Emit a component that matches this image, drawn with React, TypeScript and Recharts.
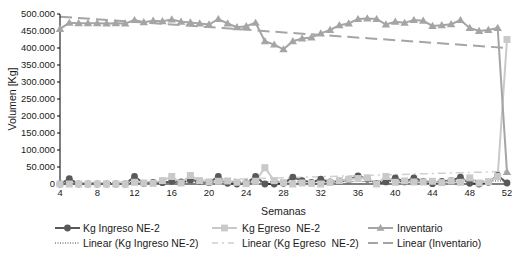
import React from 'react';
import { LineChart, Line, XAxis, YAxis, Legend } from 'recharts';

const weeks = [4, 5, 6, 7, 8, 9, 10, 11, 12, 13, 14, 15, 16, 17, 18, 19, 20, 21, 22, 23, 24, 25, 26, 27, 28, 29, 30, 31, 32, 33, 34, 35, 36, 37, 38, 39, 40, 41, 42, 43, 44, 45, 46, 47, 48, 49, 50, 51, 52];

const ingreso = [0, 16000, 0, 0, 0, 0, 0, 0, 22000, 2000, 5000, 4000, 8000, 6000, 12000, 8000, 4000, 22000, 2000, 0, 3000, 22000, 0, 0, 2000, 20000, 10000, 5000, 14000, 6000, 9000, 12000, 24000, 14000, 2000, 6000, 18000, 6000, 18000, 8000, 1000, 8000, 10000, 20000, 2000, 0, 5000, 25000, 3000];

const egreso = [0, 0, 0, 0, 0, 0, 0, 0, 5000, 3000, 2000, 10000, 22000, 3000, 25000, 10000, 6000, 8000, 9000, 5000, 1000, 8000, 48000, 10000, 4000, 0, 3000, 2000, 0, 5000, 10000, 14000, 16000, 18000, 0, 22000, 5000, 9000, 6000, 6000, 8000, 4000, 9000, 5000, 18000, 3000, 7000, 22000, 425000];

const inventario = [456000, 474000, 473000, 473000, 473000, 472000, 473000, 472000, 482000, 476000, 480000, 479000, 484000, 477000, 475000, 472000, 469000, 485000, 472000, 461000, 464000, 474000, 420000, 410000, 396000, 420000, 428000, 431000, 443000, 453000, 467000, 472000, 485000, 487000, 485000, 469000, 477000, 474000, 482000, 480000, 465000, 467000, 470000, 482000, 459000, 450000, 453000, 459000, 35000];

const trendWeeks = [4, 52];
const trendIngreso = [4000, 9000];
const trendEgreso = [0, 37000];
const trendInventario = [492000, 400000];

const xTicks = [4, 8, 12, 16, 20, 24, 28, 32, 36, 40, 44, 48, 52];
const yTicks = [0, 50000, 100000, 150000, 200000, 250000, 300000, 350000, 400000, 450000, 500000];

const legendLabels = [
  'Kg Ingreso NE-2',
  'Kg Egreso  NE-2',
  'Inventario',
  'Linear (Kg Ingreso NE-2)',
  'Linear (Kg Egreso  NE-2)',
  'Linear (Inventario)',
];

const C_ING = '#595959';
const C_EGR = '#c9c9c9';
const C_INV = '#a5a5a5';
const FONT = '"Liberation Sans", Arial, sans-serif';

const data = weeks.map((w, i) => {
  const t = trendWeeks.indexOf(w);
  return {
    week: w,
    ingreso: ingreso[i],
    egreso: egreso[i],
    inventario: inventario[i],
    tIng: t >= 0 ? trendIngreso[t] : null,
    tEgr: t >= 0 ? trendEgreso[t] : null,
    tInv: t >= 0 ? trendInventario[t] : null,
  };
});

const fmt = (v: number) => String(v).replace(/\B(?=(\d{3})+(?!\d))/g, '.');

const CircleDot = (props: any) => {
  const { cx, cy, index } = props;
  if (cx == null || cy == null) return <g key={`ci${index}`} />;
  return <circle key={`ci${index}`} cx={cx} cy={cy} r={3.4} fill={C_ING} stroke="none" />;
};
const SquareDot = (props: any) => {
  const { cx, cy, index } = props;
  if (cx == null || cy == null) return <g key={`sq${index}`} />;
  return <rect key={`sq${index}`} x={cx - 3.5} y={cy - 3.5} width={7} height={7} fill={C_EGR} stroke="none" />;
};
const TriDot = (props: any) => {
  const { cx, cy, index } = props;
  if (cx == null || cy == null) return <g key={`tr${index}`} />;
  return <path key={`tr${index}`} d={`M${cx},${cy - 4.2} L${cx + 4.2},${cy + 3} L${cx - 4.2},${cy + 3} Z`} fill={C_INV} stroke="none" />;
};

const iconX = [55, 212, 368];
const textX = [83, 242, 397];
const rowY = [8, 23];

const LegendIcon = ({ k, x, y }: { k: number; x: number; y: number }) => {
  const w = 25;
  const cx = x + w / 2;
  if (k === 0)
    return (
      <g>
        <line x1={x} y1={y} x2={x + w} y2={y} stroke={C_ING} strokeWidth={2} />
        <circle cx={cx} cy={y} r={3.4} fill={C_ING} />
      </g>
    );
  if (k === 1)
    return (
      <g>
        <line x1={x} y1={y} x2={x + w} y2={y} stroke={C_EGR} strokeWidth={2} />
        <rect x={cx - 3.4} y={y - 3.4} width={6.8} height={6.8} fill={C_EGR} />
      </g>
    );
  if (k === 2)
    return (
      <g>
        <line x1={x} y1={y} x2={x + w} y2={y} stroke={C_INV} strokeWidth={2} />
        <path d={`M${cx},${y - 4} L${cx + 4},${y + 2.8} L${cx - 4},${y + 2.8} Z`} fill={C_INV} />
      </g>
    );
  if (k === 3)
    return <line x1={x} y1={y} x2={x + w} y2={y} stroke="#404040" strokeWidth={1} strokeDasharray="1 1.5" />;
  if (k === 4)
    return <line x1={x} y1={y} x2={x + w} y2={y} stroke="#d0d0d0" strokeWidth={1.5} strokeDasharray="6 4 2 4" />;
  return <line x1={x} y1={y} x2={x + w} y2={y} stroke={C_INV} strokeWidth={2} strokeDasharray="10 5" />;
};

const renderLegend = () => (
  <div style={{ width: 520, height: 33 }}>
    <svg width={520} height={33} style={{ display: 'block' }}>
      {legendLabels.map((label, k) => {
        const col = k % 3;
        const row = Math.floor(k / 3);
        return (
          <g key={label}>
            <LegendIcon k={k} x={iconX[col]} y={rowY[row]} />
            <text
              x={textX[col]}
              y={rowY[row]}
              dominantBaseline="central"
              fontFamily={FONT}
              fontSize={10.4}
              fill="#1a1a1a"
              style={{ whiteSpace: 'pre' }}
            >
              {label}
            </text>
          </g>
        );
      })}
    </svg>
  </div>
);

export default function App() {
  return (
    <div style={{ position: 'absolute', left: 0, top: 0, width: 520, height: 253, background: '#fff' }}>
      <LineChart width={520} height={253} data={data} margin={{ top: 14, right: 13, bottom: 0, left: 0 }}>
        <XAxis
          dataKey="week"
          type="number"
          domain={[4, 52]}
          ticks={xTicks}
          allowDecimals={false}
          height={36}
          tickSize={3}
          tickLine={false}
          axisLine={{ stroke: '#000', strokeWidth: 1 }}
          tick={{ fontSize: 9.4, fontFamily: FONT, fill: '#1a1a1a' }}
          label={{ value: 'Semanas', position: 'insideBottom', offset: 5, fontSize: 10.6, fontFamily: FONT, fill: '#1a1a1a' }}
        />
        <YAxis
          type="number"
          domain={[0, 500000]}
          ticks={yTicks}
          width={60}
          tickSize={3}
          tickFormatter={fmt}
          tickLine={{ stroke: '#000' }}
          axisLine={{ stroke: '#000', strokeWidth: 1 }}
          tick={{ fontSize: 9.4, fontFamily: FONT, fill: '#1a1a1a' }}
          label={{ value: 'Volumen [Kg]', angle: -90, position: 'insideLeft', offset: 12, fontSize: 10.6, fontFamily: FONT, fill: '#1a1a1a', style: { textAnchor: 'middle' } }}
        />
        <Legend verticalAlign="bottom" align="left" content={renderLegend} wrapperStyle={{ left: 0, width: 520, height: 33 }} />
        <Line dataKey="ingreso" stroke={C_ING} strokeWidth={2} dot={CircleDot} activeDot={false} isAnimationActive={false} />
        <Line dataKey="egreso" stroke={C_EGR} strokeWidth={2} dot={SquareDot} activeDot={false} isAnimationActive={false} />
        <Line dataKey="inventario" stroke={C_INV} strokeWidth={2} dot={TriDot} activeDot={false} isAnimationActive={false} />
        <Line dataKey="tIng" stroke="#404040" strokeWidth={1} strokeDasharray="1 1.5" dot={false} activeDot={false} connectNulls isAnimationActive={false} />
        <Line dataKey="tEgr" stroke="#d0d0d0" strokeWidth={1.5} strokeDasharray="8 4 2 4" dot={false} activeDot={false} connectNulls isAnimationActive={false} />
        <Line dataKey="tInv" stroke={C_INV} strokeWidth={2} strokeDasharray="12 6" dot={false} activeDot={false} connectNulls isAnimationActive={false} />
      </LineChart>
    </div>
  );
}
